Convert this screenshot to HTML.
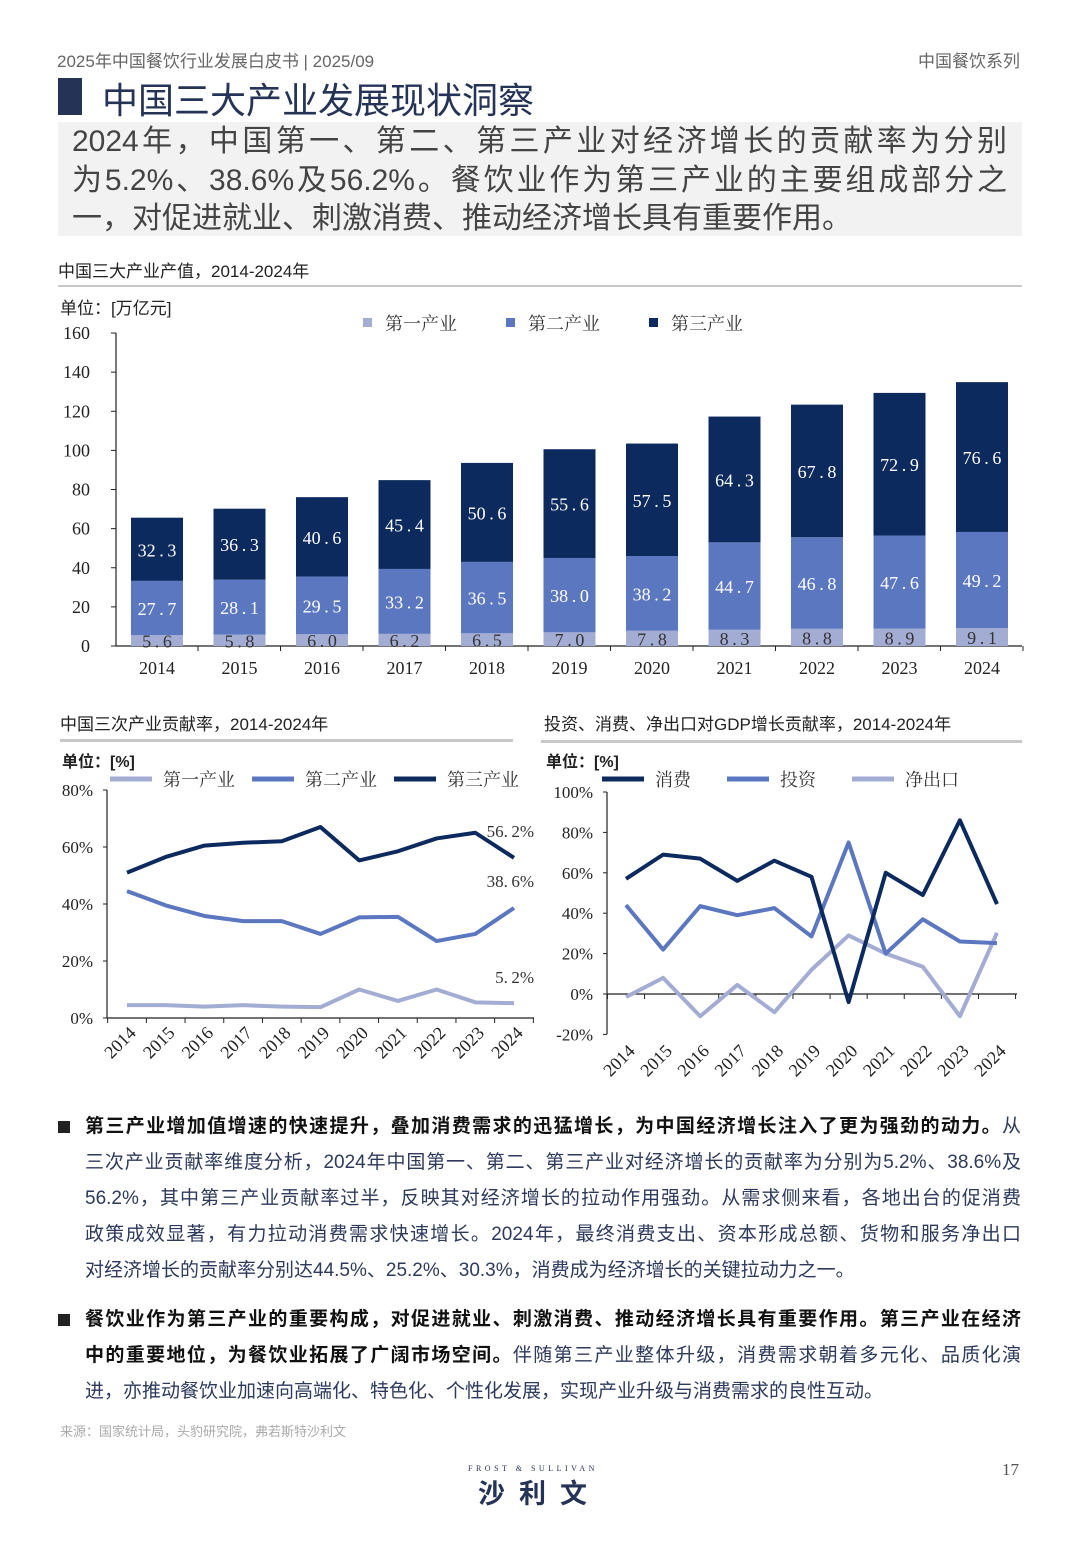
<!DOCTYPE html>
<html><head><meta charset="utf-8"><style>
body{margin:0;width:1080px;height:1560px;background:#fff;position:relative;overflow:hidden;font-family:"Liberation Sans","Noto Sans CJK SC",sans-serif}
.a{position:absolute;white-space:nowrap}
.p{font-size:19px;line-height:36px;color:#2d3a5c;left:85px;width:936px;white-space:nowrap}
.p div{text-align:justify;text-align-last:justify}
.p div.l{text-align-last:left}
.p b{color:#111}
.h div{text-align:justify;text-align-last:justify}
.h div.l{text-align-last:left}
</style></head><body>
<div class="a" style="left:57px;top:47px;font-size:17px;color:#666">2025年中国餐饮行业发展白皮书 | 2025/09</div>
<div class="a" style="right:60px;top:47px;font-size:17px;color:#666">中国餐饮系列</div>
<div class="a" style="left:58px;top:78px;width:24px;height:37px;background:#253356"></div>
<div class="a" style="left:102px;top:72px;font-size:36px;color:#253356">中国三大产业发展现状洞察</div>
<div class="a" style="left:58px;top:122px;width:964px;height:114px;background:#f2f2f2"></div>
<div class="a h" style="left:72px;top:123px;width:935px;font-size:30px;line-height:38.5px;color:#444">
<div>2024年，中国第一、第二、第三产业对经济增长的贡献率为分别</div>
<div>为5.2%、38.6%及56.2%。餐饮业作为第三产业的主要组成部分之</div>
<div class="l">一，对促进就业、刺激消费、推动经济增长具有重要作用。</div></div>
<div class="a" style="left:58px;top:257px;font-size:17px;color:#222">中国三大产业产值，2014-2024年</div>
<div class="a" style="left:58px;top:285px;width:964px;height:2px;background:#c8c8c8"></div>
<div class="a" style="left:60px;top:710px;font-size:17px;color:#222">中国三次产业贡献率，2014-2024年</div>
<div class="a" style="left:60px;top:739px;width:453px;height:3px;background:#c8c8c8"></div>
<div class="a" style="left:544px;top:710px;font-size:17px;color:#222">投资、消费、净出口对GDP增长贡献率，2014-2024年</div>
<div class="a" style="left:541px;top:740px;width:481px;height:3px;background:#c8c8c8"></div>

<svg class="a" style="left:0;top:0" width="1080" height="1560" font-family="Liberation Serif,Noto Serif CJK SC,serif">
<g id="bar"></g>
<g id="l1"></g>
<g id="l2"></g>
</svg>

<div class="a" style="left:58px;top:1121px;width:12px;height:12px;background:#222"></div>
<div class="a p" style="top:1109px">
<div><b>第三产业增加值增速的快速提升，叠加消费需求的迅猛增长，为中国经济增长注入了更为强劲的动力。</b>从</div>
<div>三次产业贡献率维度分析，2024年中国第一、第二、第三产业对经济增长的贡献率为分别为5.2%、38.6%及</div>
<div>56.2%，其中第三产业贡献率过半，反映其对经济增长的拉动作用强劲。从需求侧来看，各地出台的促消费</div>
<div>政策成效显著，有力拉动消费需求快速增长。2024年，最终消费支出、资本形成总额、货物和服务净出口</div>
<div class="l">对经济增长的贡献率分别达44.5%、25.2%、30.3%，消费成为经济增长的关键拉动力之一。</div></div>
<div class="a" style="left:58px;top:1314px;width:12px;height:12px;background:#222"></div>
<div class="a p" style="top:1302px">
<div><b>餐饮业作为第三产业的重要构成，对促进就业、刺激消费、推动经济增长具有重要作用。第三产业在经济</b></div>
<div><b>中的重要地位，为餐饮业拓展了广阔市场空间。</b>伴随第三产业整体升级，消费需求朝着多元化、品质化演</div>
<div class="l">进，亦推动餐饮业加速向高端化、特色化、个性化发展，实现产业升级与消费需求的良性互动。</div></div>
<div class="a" style="left:60px;top:1421px;font-size:13px;color:#aaa">来源：国家统计局，头豹研究院，弗若斯特沙利文</div>
<div class="a" style="left:468px;top:1464px;font-size:8px;letter-spacing:3.5px;color:#253356;font-family:'Liberation Serif',serif">FROST &amp; SULLIVAN</div>
<div class="a" style="left:478px;top:1472px;font-size:27px;font-weight:bold;letter-spacing:14px;color:#253356">沙利文</div>
<div class="a" style="left:1002px;top:1460px;font-size:17px;color:#555;font-family:'Liberation Serif',serif">17</div>

<script>
const NS="http://www.w3.org/2000/svg";
function el(p,t,a,txt){const e=document.createElementNS(NS,t);for(const k in a)e.setAttribute(k,a[k]);if(txt!==undefined)e.textContent=txt;document.getElementById(p).appendChild(e);return e;}
const C1="#a3acd3",C2="#5b77c0",C3="#0d2a5e";
const f=[5.6,5.8,6.0,6.2,6.5,7.0,7.8,8.3,8.8,8.9,9.1],s=[27.7,28.1,29.5,33.2,36.5,38.0,38.2,44.7,46.8,47.6,49.2],t=[32.3,36.3,40.6,45.4,50.6,55.6,57.5,64.3,67.8,72.9,76.6];
const y0=646,k=1.956;
el("bar","line",{x1:116,y1:333,x2:116,y2:646,stroke:"#222","stroke-width":1.2});
el("bar","line",{x1:116,y1:646,x2:1022,y2:646,stroke:"#222","stroke-width":1.2});
for(let v=0;v<=160;v+=20){const y=y0-v*k;el("bar","line",{x1:111,y1:y,x2:116,y2:y,stroke:"#222"});el("bar","text",{x:90,y:y+6,"font-size":18,"text-anchor":"end",fill:"#222"},v);}
el("bar","text",{x:60,y:314,"font-size":17,fill:"#222","font-family":"Liberation Sans,Noto Sans CJK SC,sans-serif"},"单位：[万亿元]");
[[C1,"第一产业",363],[C2,"第二产业",506],[C3,"第三产业",649]].forEach(([c,n,x])=>{el("bar","rect",{x:x,y:318,width:9,height:9,fill:c});el("bar","text",{x:x+22,y:330,"font-size":18,fill:"#333"},n);});
for(let i=0;i<11;i++){const cx=157+i*82.5,w=52,x=cx-w/2;
 let b=y0;const h1=f[i]*k,h2=s[i]*k,h3=t[i]*k;
 el("bar","rect",{x:x,y:b-h1,width:w,height:h1,fill:C1});
 el("bar","rect",{x:x,y:b-h1-h2,width:w,height:h2,fill:C2});
 el("bar","rect",{x:x,y:b-h1-h2-h3,width:w,height:h3,fill:C3});
 el("bar","line",{x1:cx+41,y1:646,x2:cx+41,y2:651,stroke:"#222"});
 const fm=v=>v.toFixed(1).replace(".","\u2009.\u2009");
 el("bar","text",{x:cx,y:b-h1/2+7,"font-size":18,"text-anchor":"middle",fill:"#333"},fm(f[i]));
 el("bar","text",{x:cx,y:b-h1-h2/2+7,"font-size":18,"text-anchor":"middle",fill:"#fff"},fm(s[i]));
 el("bar","text",{x:cx,y:b-h1-h2-h3/2+7,"font-size":18,"text-anchor":"middle",fill:"#fff"},fm(t[i]));
 el("bar","text",{x:cx,y:674,"font-size":18,"text-anchor":"middle",fill:"#222"},2014+i);}
function chart(id,ax,x0,dx,yz,kk,ticks,axEnd,series,yb,labY,leg){
 el(id,"line",{x1:ax,y1:yz-ticks[ticks.length-1]*kk,x2:ax,y2:yz-ticks[0]*kk,stroke:"#222","stroke-width":1.2});
 el(id,"line",{x1:ax,y1:yb,x2:axEnd,y2:yb,stroke:"#222","stroke-width":1.2});
 ticks.forEach(v=>{const y=yz-v*kk;el(id,"line",{x1:ax-4,y1:y,x2:ax,y2:y,stroke:"#222"});el(id,"text",{x:ax-14,y:y+6,"font-size":17,"text-anchor":"end",fill:"#222"},v+"%");});
 for(let i=0;i<=11;i++){const x=x0-dx/2+i*dx;el(id,"line",{x1:x,y1:yb,x2:x,y2:yb+5,stroke:"#222"});}
 for(let i=0;i<11;i++){const x=x0+i*dx;el(id,"text",{x:x+10,y:labY,"font-size":18,"text-anchor":"end",fill:"#222",transform:`rotate(-45 ${x+10} ${labY})`},2014+i);}
 series.forEach(([c,d])=>{el(id,"polyline",{points:d.map((v,i)=>(x0+i*dx)+","+(yz-v*kk)).join(" "),fill:"none",stroke:c,"stroke-width":4,"stroke-linejoin":"round"});});
 leg.forEach(([c,n,x])=>{el(id,"line",{x1:x,y1:779,x2:x+42,y2:779,stroke:c,"stroke-width":5});el(id,"text",{x:x+53,y:786,"font-size":18,fill:"#333"},n);});
}
el("l1","text",{x:62,y:767,"font-size":16,fill:"#222","font-family":"Liberation Sans,Noto Sans CJK SC,sans-serif","font-weight":"bold"},"单位：[%]");
chart("l1",107,127,38.7,1018,2.85,[0,20,40,60,80],534,[
 [C1,[4.5,4.5,4,4.5,4,3.8,10,6,10,5.5,5.2]],
 [C2,[44.5,39.5,35.8,34,34,29.5,35.3,35.5,27,29.5,38.6]],
 [C3,[51,56.5,60.5,61.5,62,67,55.3,58.5,63,65,56.2]]],1018,1034,[[C1,"第一产业",110],[C2,"第二产业",252],[C3,"第三产业",394]]);
el("l1","text",{x:534,y:837,"font-size":17,"text-anchor":"end",fill:"#333"},"56.\u20092%");
el("l1","text",{x:534,y:887,"font-size":17,"text-anchor":"end",fill:"#333"},"38.\u20096%");
el("l1","text",{x:534,y:983,"font-size":17,"text-anchor":"end",fill:"#333"},"5.\u20092%");
el("l2","text",{x:546,y:767,"font-size":16,fill:"#222","font-family":"Liberation Sans,Noto Sans CJK SC,sans-serif","font-weight":"bold"},"单位：[%]");
chart("l2",607,626,37.1,994,2.02,[-20,0,20,40,60,80,100],1017,[
 [C1,[-1.5,8,-11,4.5,-9,12,29,20,13.5,-11,30.3]],
 [C2,[44,22,43.5,39,42.5,28.5,75,20,37,26,25.2]],
 [C3,[57,69,67,56,66,58,-4,60,49,86,44.5]]],994,1052,[[C3,"消费",602],[C2,"投资",727],[C1,"净出口",852]]);
</script>
</body></html>
